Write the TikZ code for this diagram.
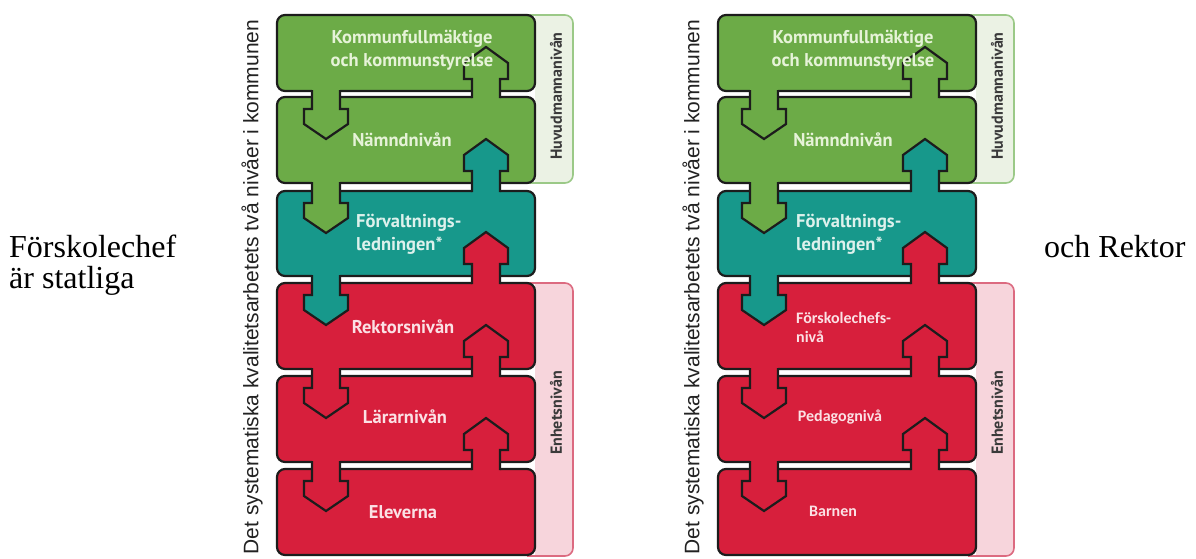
\documentclass[tikz,border=0pt]{standalone}
\usepackage{fontspec}
\setmainfont{Liberation Serif}
\newfontfamily\labfont{PT Sans}
\newfontfamily\calfont{Carlito}
\newfontfamily\mainlabfont{Liberation Sans}
\usetikzlibrary{calc}
\definecolor{cgreen}{HTML}{6CAB47}
\definecolor{cteal}{HTML}{17988B}
\definecolor{cred}{HTML}{D71F3C}
\definecolor{outl}{HTML}{1C1C1C}
\definecolor{tgreen}{HTML}{E6F3D8}
\definecolor{tteal}{HTML}{DDF1EC}
\definecolor{tred}{HTML}{FBE1E5}
\definecolor{bgreenfill}{HTML}{EBF2E4}
\definecolor{bgreenline}{HTML}{9BC987}
\definecolor{bredfill}{HTML}{F7D5DC}
\definecolor{bredline}{HTML}{DC6A80}
\definecolor{sidetext}{HTML}{3A3A3A}
\definecolor{maintext}{HTML}{222222}
\tikzset{
  box/.style={draw=outl, line width=2.2pt, rounded corners=8pt, minimum width=258pt, inner sep=0pt, outer sep=0pt},
  brkline/.style={line width=1.6pt, rounded corners=8pt},
  arrline/.style={draw=outl, line width=2.2pt, line join=miter},
  boxtxt/.style={font=\labfont\bfseries\fontsize{18.5}{23}\selectfont, inner sep=0pt},
  caltxt/.style={font=\calfont\bfseries\fontsize{16}{19}\selectfont, inner sep=0pt},
  sidetxt/.style={font=\labfont\bfseries\fontsize{16}{18}\selectfont, text=sidetext, rotate=90, inner sep=0pt},
  maintxt/.style={font=\mainlabfont\fontsize{21}{24}\selectfont, text=maintext, rotate=90, inner sep=0pt},
  outtxt/.style={font=\fontsize{32}{36}\selectfont, inner sep=0pt}
}
% down arrow: #1 source box (upper), #2 target box (lower), #3 centre x, #4 colour
\newcommand{\dnarr}[4]{%
  \fill[#4] let \p1=(#1.south), \p2=(#2.north) in
    (#3pt-14pt,\y1+4pt) -- (#3pt-14pt,\y2-12pt) -- (#3pt-22pt,\y2-12pt) -- (#3pt-22pt,\y2-27pt)
    -- (#3pt,\y2-42pt) -- (#3pt+22pt,\y2-27pt) -- (#3pt+22pt,\y2-12pt) -- (#3pt+14pt,\y2-12pt)
    -- (#3pt+14pt,\y1+4pt) -- cycle;
  \draw[arrline] let \p1=(#1.south), \p2=(#2.north) in
    (#3pt-14pt,\y1+1pt) -- (#3pt-14pt,\y2-12pt) -- (#3pt-22pt,\y2-12pt) -- (#3pt-22pt,\y2-27pt)
    -- (#3pt,\y2-42pt) -- (#3pt+22pt,\y2-27pt) -- (#3pt+22pt,\y2-12pt) -- (#3pt+14pt,\y2-12pt)
    -- (#3pt+14pt,\y1+1pt);
}
% up arrow: #1 source box (lower), #2 target box (upper), #3 centre x, #4 colour
\newcommand{\uparr}[4]{%
  \fill[#4] let \p1=(#1.north), \p2=(#2.south) in
    (#3pt-14pt,\y1-4pt) -- (#3pt-14pt,\y2+12pt) -- (#3pt-22pt,\y2+12pt) -- (#3pt-22pt,\y2+28pt)
    -- (#3pt,\y2+44pt) -- (#3pt+22pt,\y2+28pt) -- (#3pt+22pt,\y2+12pt) -- (#3pt+14pt,\y2+12pt)
    -- (#3pt+14pt,\y1-4pt) -- cycle;
  \draw[arrline] let \p1=(#1.north), \p2=(#2.south) in
    (#3pt-14pt,\y1-1pt) -- (#3pt-14pt,\y2+12pt) -- (#3pt-22pt,\y2+12pt) -- (#3pt-22pt,\y2+28pt)
    -- (#3pt,\y2+44pt) -- (#3pt+22pt,\y2+28pt) -- (#3pt+22pt,\y2+12pt) -- (#3pt+14pt,\y2+12pt)
    -- (#3pt+14pt,\y1-1pt);
}
% bracket: #1 x offset, #2 top y, #3 bottom y, #4 fill, #5 line
\newcommand{\bracket}[5]{%
  \fill[#4] (535+#1,#2) rectangle (562+#1,#3);
  \fill[#4, rounded corners=8pt] (545+#1,#2) rectangle (573+#1,#3);
  \draw[#5, brkline] (527+#1,#2) -- (573+#1,#2) -- (573+#1,#3) -- (527+#1,#3);
}
\begin{document}
\begin{tikzpicture}[x=1pt,y=-1pt]
\useasboundingbox[fill=white] (0,0) rectangle (1196,558);

% outside texts
\node[outtxt, anchor=base west] (fc) at (9,257) {Förskolechef};
\node[outtxt, anchor=base west] (st) at (9,288) {är statliga};
\node[outtxt, anchor=base west] (orr) at (1044,257) {och Rektor};

% main rotated labels
\node[maintxt] (mlL) at (252,287) {Det systematiska kvalitetsarbetets två nivåer i kommunen};
\node[maintxt] (mlR) at (693,287) {Det systematiska kvalitetsarbetets två nivåer i kommunen};

% brackets
\foreach \dx/\s in {0/L,441/R}{
  \bracket{\dx}{15}{183}{bgreenfill}{bgreenline}
  \bracket{\dx}{283}{556}{bredfill}{bredline}
  \node[sidetxt] (HT\s) at (556+\dx,96) {Huvudmannanivån};
  \node[sidetxt] (ET\s) at (556+\dx,413) {Enhetsnivån};
}

% boxes
\foreach \dx/\s in {0/L,441/R}{
  \node[box, fill=cgreen, minimum height=76pt] (\s1) at (406+\dx,53) {};
  \node[box, fill=cgreen, minimum height=86pt] (\s2) at (406+\dx,140) {};
  \node[box, fill=cteal,  minimum height=85pt] (\s3) at (406+\dx,233.5) {};
  \node[box, fill=cred,   minimum height=86pt] (\s4) at (406+\dx,326) {};
  \node[box, fill=cred,   minimum height=86pt] (\s5) at (406+\dx,419) {};
  \node[box, fill=cred,   minimum height=86pt] (\s6) at (406+\dx,512) {};
}

% arrows left diagram
\dnarr{L1}{L2}{326}{cgreen}
\dnarr{L2}{L3}{326}{cgreen}
\dnarr{L3}{L4}{326}{cteal}
\dnarr{L4}{L5}{326}{cred}
\dnarr{L5}{L6}{326}{cred}
\uparr{L2}{L1}{486}{cgreen}
\uparr{L3}{L2}{486}{cteal}
\uparr{L4}{L3}{486}{cred}
\uparr{L5}{L4}{486}{cred}
\uparr{L6}{L5}{486}{cred}
% arrows right diagram
\dnarr{R1}{R2}{764}{cgreen}
\dnarr{R2}{R3}{764}{cgreen}
\dnarr{R3}{R4}{764}{cteal}
\dnarr{R4}{R5}{764}{cred}
\dnarr{R5}{R6}{764}{cred}
\uparr{R2}{R1}{925}{cgreen}
\uparr{R3}{R2}{925}{cteal}
\uparr{R4}{R3}{925}{cred}
\uparr{R5}{R4}{925}{cred}
\uparr{R6}{R5}{925}{cred}

% box texts left
\node[boxtxt, text=tgreen, align=center] (tL1) at (412,50.5) {Kommunfullmäktige\\och kommunstyrelse};
\node[boxtxt, text=tgreen] (tL2) at (402,140) {Nämndnivån};
\node[boxtxt, text=tteal, align=left, anchor=west] (tL3) at (356,234) {Förvaltnings-\\ledningen*};
\node[boxtxt, text=tred] (tL4) at (403,327) {Rektorsnivån};
\node[boxtxt, text=tred] (tL5) at (405,417) {Lärarnivån};
\node[boxtxt, text=tred] (tL6) at (403,512) {Eleverna};
% box texts right
\node[boxtxt, text=tgreen, align=center] (tR1) at (853,50.5) {Kommunfullmäktige\\och kommunstyrelse};
\node[boxtxt, text=tgreen] (tR2) at (843,140) {Nämndnivån};
\node[boxtxt, text=tteal, align=left, anchor=west] (tR3) at (796,234) {Förvaltnings-\\ledningen*};
\node[caltxt, text=tred, align=left, anchor=west] (tR4) at (796,327.5) {Förskolechefs-\\nivå};
\node[caltxt, text=tred] (tR5) at (840,417) {Pedagognivå};
\node[caltxt, text=tred] (tR6) at (833,511) {Barnen};
\end{tikzpicture}
\end{document}
